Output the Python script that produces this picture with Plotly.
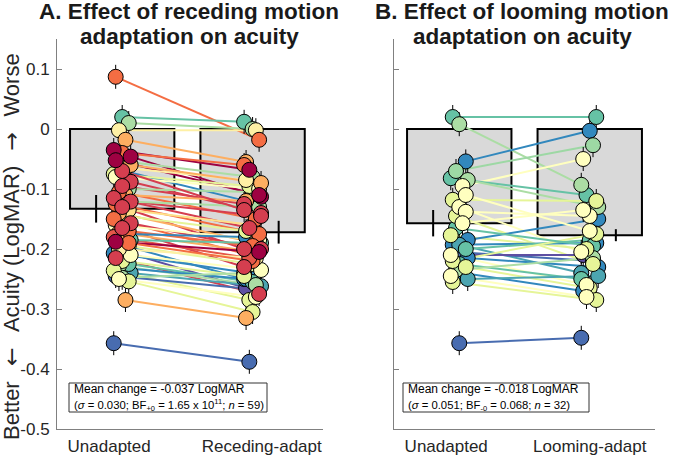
import plotly.graph_objects as go
from plotly.colors import sample_colorscale

# ---------------- data ----------------
conditions_A = ["Unadapted", "Receding-adapt"]
conditions_B = ["Unadapted", "Looming-adapt"]
y_tick_vals = [0.1, 0, -0.1, -0.2, -0.3, -0.4, -0.5]
y_tick_text = ["0.1", "0", "-0.1", "-0.2", "-0.3", "-0.4", "-0.5"]

bar_mean_A = [-0.133, -0.172]
bar_err_A = [0.023, 0.019]
bar_mean_B = [-0.157, -0.177]
bar_err_B = [0.022, 0.010]

unadapted_A = [0.087, 0.020, 0.010, -0.002, -0.018, -0.035, -0.046, -0.052, -0.040, -0.055,
               -0.068, -0.065, -0.075, -0.088, -0.080, -0.095, -0.100, -0.105, -0.110, -0.115,
               -0.121, -0.125, -0.130, -0.135, -0.140, -0.145, -0.150, -0.157, -0.160, -0.165,
               -0.170, -0.173, -0.175, -0.180, -0.185, -0.188, -0.193, -0.195, -0.200, -0.205,
               -0.207, -0.210, -0.215, -0.220, -0.225, -0.228, -0.232, -0.236, -0.240, -0.245,
               -0.248, -0.254, -0.250, -0.285, -0.357, -0.060, -0.120, -0.070, -0.190]
receding_A = [-0.018, 0.012, 0.000, -0.002, -0.055, -0.068, -0.113, -0.110, -0.060, -0.080,
              -0.124, -0.085, -0.095, -0.140, -0.100, -0.125, -0.105, -0.150, -0.120, -0.165,
              -0.145, -0.175, -0.200, -0.160, -0.190, -0.170, -0.210, -0.200, -0.185, -0.230,
              -0.195, -0.205, -0.180, -0.215, -0.190, -0.205, -0.250, -0.225, -0.215, -0.265,
              -0.240, -0.235, -0.275, -0.245, -0.255, -0.260, -0.250, -0.285, -0.262, -0.268,
              -0.240, -0.305, -0.280, -0.315, -0.388, -0.090, -0.130, -0.135, -0.220]
colour_A = [0.2, 0.8, 0.7, 0.45, 0.3, 0.0, 0.0, 0.0, 0.2, 0.7,
            0.9, 0.45, 0.6, 0.1, 0.5, 0.1, 0.7, 0.2, 0.3, 0.1,
            0.1, 0.2, 0.1, 0.4, 0.3, 0.6, 0.2, 0.1, 0.5, 0.1,
            0.2, 0.3, 0.9, 0.15, 0.8, 0.0, 0.9, 0.6, 0.45, 1.0,
            0.9, 0.5, 0.1, 0.6, 0.8, 0.7, 0.9, 0.6, 0.85, 0.95,
            0.7, 0.6, 0.5, 0.3, 0.95, 0.3, 0.7, 0.1, 0.2]

unadapted_B = [0.020, 0.008, -0.054, -0.070, -0.095, -0.082, -0.085, -0.118, -0.130, -0.138,
               -0.145, -0.157, -0.177, -0.185, -0.193, -0.193, -0.200, -0.205, -0.210, -0.210,
               -0.215, -0.220, -0.225, -0.230, -0.235, -0.240, -0.245, -0.250, -0.255, -0.357,
               -0.110, -0.165]
looming_B = [0.020, -0.093, -0.003, -0.027, -0.050, -0.110, -0.130, -0.120, -0.205, -0.145,
             -0.225, -0.135, -0.200, -0.150, -0.190, -0.240, -0.185, -0.220, -0.210, -0.260,
             -0.230, -0.175, -0.250, -0.265, -0.215, -0.270, -0.280, -0.245, -0.285, -0.348,
             -0.170, -0.195]
colour_B = [0.8, 0.7, 0.9, 0.72, 0.5, 0.8, 0.7, 0.6, 0.5, 0.5,
            0.6, 0.5, 0.6, 0.9, 0.9, 0.85, 0.8, 0.95, 1.0, 0.5,
            0.9, 0.6, 0.8, 0.6, 0.7, 0.9, 0.5, 0.85, 0.6, 0.95,
            0.5, 0.8]

point_err = 0.02

SUB = '<span style="font-size:7.5px">'
L2 = '<span style="font-size:11.3px">'
stats_A = ("Mean change = -0.037 LogMAR<br>" + L2 +
           "(<i>σ</i> = 0.030; BF<sub>" + SUB + "+0</span></sub> = 1.65 x 10<sup>" + SUB
           + "11</span></sup>; <i>n</i> = 59)</span>")
stats_B = ("Mean change = -0.018 LogMAR<br>" + L2 +
           "(<i>σ</i> = 0.051; BF<sub>" + SUB + "-0</span></sub> = 0.068; <i>n</i> = 32)</span>")

ARW = '<span style="font-family:DejaVu Sans">'
GAP = "\u2002\u2009"
y_label = ("Better" + GAP + ARW + "\u2190</span>" + GAP + "Acuity (LogMAR)" + GAP + ARW
           + "\u2192</span>" + GAP + "Worse")

# ---------------- figure ----------------
W, H = 675, 456
FONT = "Liberation Sans, Arial, sans-serif"
TXT = "#262626"
AXC = "#808080"

fig = go.Figure()


def px_x(p):
    return p / W


def px_y(p):
    return 1 - p / H


JIT = [-0.05, 0.0, 0.05, -0.025, 0.025, -0.065, 0.065]


def add_panel(xa, ya, mean, err, pre, post, col):
    xs = [1, 2]
    fig.add_trace(go.Bar(x=xs, y=mean, width=0.8, xaxis=xa, yaxis=ya,
                         marker=dict(color="#d9d9d9", line=dict(color="black", width=2)),
                         showlegend=False, hoverinfo="skip"))
    fig.add_trace(go.Scatter(x=[xs[0] - 0.2, xs[1] + 0.2], y=mean, xaxis=xa, yaxis=ya,
                             mode="markers", marker=dict(size=1, color="rgba(0,0,0,0)"),
                             error_y=dict(type="data", array=err, color="black",
                                          thickness=2, width=0),
                             showlegend=False, hoverinfo="skip"))
    cols = sample_colorscale("Spectral", col)
    n = len(pre)
    x1 = [1 + JIT[i % 7] for i in range(n)]
    x2 = [2 + JIT[(i * 3 + 2) % 7] for i in range(n)]
    for i in range(n):
        fig.add_trace(go.Scatter(x=[x1[i], x2[i]], y=[pre[i], post[i]], xaxis=xa, yaxis=ya,
                                 mode="lines", line=dict(color=cols[i], width=2),
                                 showlegend=False, hoverinfo="skip"))
    order = sorted(range(n), key=lambda i: -col[i])
    fig.add_trace(go.Scatter(x=[x1[i] for i in order] + [x2[i] for i in order],
                             y=[pre[i] for i in order] + [post[i] for i in order],
                             xaxis=xa, yaxis=ya, mode="markers",
                             marker=dict(size=1, color="rgba(0,0,0,0)"),
                             error_y=dict(type="constant", value=point_err, color="black",
                                          thickness=1, width=0),
                             showlegend=False, hoverinfo="skip"))
    for i in order:
        fig.add_trace(go.Scatter(x=[x1[i], x2[i]], y=[pre[i], post[i]], xaxis=xa, yaxis=ya,
                                 mode="markers",
                                 marker=dict(size=15, color=cols[i],
                                             line=dict(color="black", width=1)),
                                 showlegend=False, hoverinfo="skip"))


add_panel("x", "y", bar_mean_A, bar_err_A, unadapted_A, receding_A, colour_A)
add_panel("x2", "y2", bar_mean_B, bar_err_B, unadapted_B, looming_B, colour_B)

ydom = [px_y(429), px_y(39)]
yax = dict(range=[-0.5, 0.15], domain=ydom, showline=True, linecolor=AXC, linewidth=1,
           ticks="inside", ticklen=5, tickcolor=AXC, tickvals=y_tick_vals, automargin=False,
           ticklabelstandoff=3,
           showgrid=False, zeroline=False, tickfont=dict(size=17, color=TXT, family=FONT))
xax = dict(showline=True, linecolor=AXC, linewidth=1, ticks="", showgrid=False,
           zeroline=False, automargin=False, ticklabelstandoff=2,
           tickfont=dict(size=17, color=TXT, family=FONT))
fig.update_layout(
    width=W, height=H, margin=dict(l=0, r=0, t=0, b=0, autoexpand=False),
    paper_bgcolor="white", plot_bgcolor="white", barmode="overlay",
    font=dict(family=FONT, color=TXT),
    xaxis=dict(**xax, domain=[px_x(57), px_x(323)], range=[0.5, 2.54],
               tickvals=[0.9, 2.07], ticktext=conditions_A, anchor="y"),
    yaxis=dict(**yax, ticktext=y_tick_text, anchor="x"),
    xaxis2=dict(**xax, domain=[px_x(394), px_x(655)], range=[0.5, 2.5],
                tickvals=[0.9, 2.0], ticktext=conditions_B, anchor="y2"),
    yaxis2=dict(**yax, showticklabels=False, anchor="x2"),
)

titles = [("<b>A. Effect of receding motion</b>", 189, 12),
          ("<b>adaptation on acuity</b>", 189, 36),
          ("<b>B. Effect of looming motion</b>", 522, 12),
          ("<b>adaptation on acuity</b>", 522, 36)]
for t, xp, yp in titles:
    fig.add_annotation(xref="paper", yref="paper", x=px_x(xp), y=px_y(yp), text=t,
                       xanchor="center", yanchor="middle", showarrow=False,
                       font=dict(size=22.5, color="#1a1a1a", family=FONT))

fig.add_annotation(xref="paper", yref="paper", x=px_x(12), y=px_y(247), textangle=-90,
                   text=y_label, showarrow=False, xanchor="center", yanchor="middle",
                   font=dict(size=22, color=TXT, family=FONT))

for txt, x0, x1 in [(stats_A, 69, 267), (stats_B, 403, 589)]:
    fig.add_shape(type="rect", xref="paper", yref="paper",
                  x0=px_x(x0), x1=px_x(x1), y0=px_y(412), y1=px_y(383),
                  line=dict(color="#333333", width=1), fillcolor="white", layer="above")
    fig.add_annotation(xref="paper", yref="paper", x=px_x(x0 + 4), y=px_y(397.5),
                       text=txt, showarrow=False, xanchor="left", yanchor="middle",
                       align="left", borderpad=0,
                       font=dict(size=12, color="black", family=FONT))

fig.write_html("out.html", config={"displayModeBar": False},
               post_script="document.body.style.margin='0px';")
